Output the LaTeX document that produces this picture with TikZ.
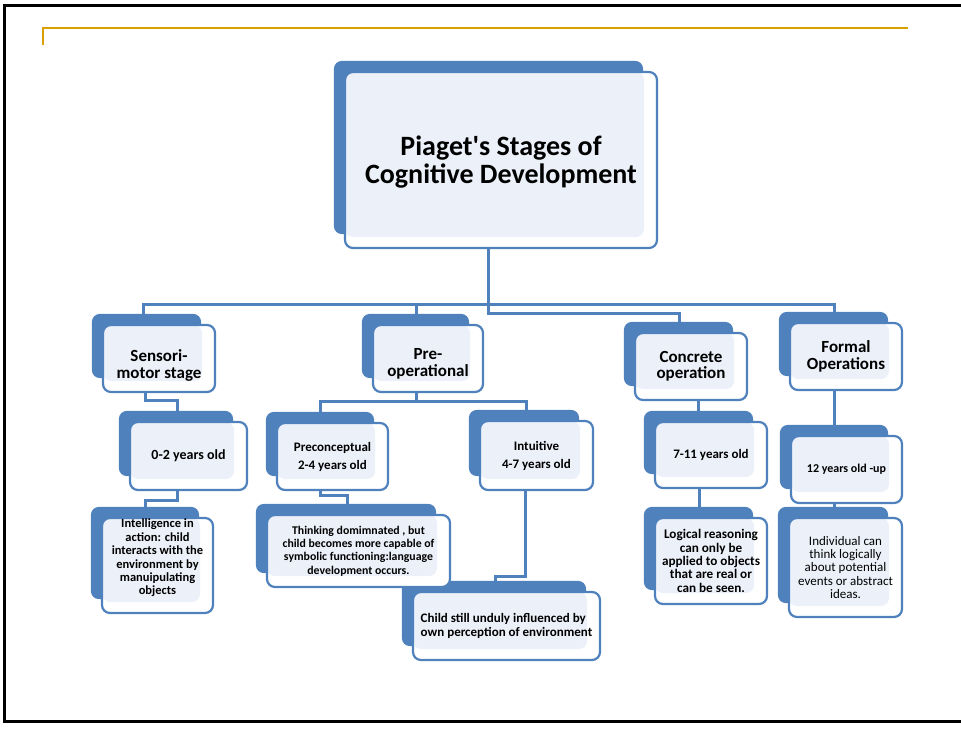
\documentclass[tikz,border=0pt]{standalone}
\usepackage{fontspec}
\setmainfont{Carlito}
\usetikzlibrary{calc}
\definecolor{boxblue}{RGB}{79,129,189}
\definecolor{boxlight}{RGB}{236,241,249}
\definecolor{gold}{RGB}{218,160,0}
\pgfdeclarelayer{connlayer}
\pgfdeclarelayer{backlayer}
\pgfsetlayers{connlayer,backlayer,main}
\tikzset{
  stagebox/.style={draw=boxblue, line width=2.2pt, rounded corners=8pt, fill=white,
    align=center, inner sep=0pt, text=black,
    path picture={\fill[boxlight] (path picture bounding box.north west) rectangle ([xshift=-13pt,yshift=11pt]path picture bounding box.south east);}},
  titlefont/.style={font=\bfseries\fontsize{28}{28.5}\selectfont},
  lvlone/.style={font=\bfseries\fontsize{17}{16.5}\selectfont},
  lvltwo/.style={font=\bfseries\fontsize{13}{18}\selectfont},
  lvlthree/.style={font=\bfseries\fontsize{12.5}{13.4}\selectfont},
  conn/.style={draw=boxblue, line width=3pt},
  backshape/.style={fill=boxblue, rounded corners=8pt},
  framerule/.style={line width=3pt, black},
  goldrule/.style={line width=2.2pt, gold}
}
\begin{document}
\begin{tikzpicture}[x=1pt,y=-1pt]
\useasboundingbox (0,0) rectangle (961,731);
% frame
\coordinate (ftl) at (4,5);
\coordinate (ftr) at (961,5);
\coordinate (fbl) at (4,721);
\coordinate (fbr) at (961,721);
\draw[framerule] (ftr) -- (ftl) -- (fbl) -- (fbr);
\coordinate (gl) at (43,28);
\coordinate (gr) at (908,28);
\draw[goldrule] (gr) -- (gl) -- ++(0,17);

% nodes
\node[stagebox, titlefont, minimum width=312pt, minimum height=176pt, text height=52pt] (title) at (501,160) {Piaget\textquotesingle s Stages of\\Cognitive Development};

\node[stagebox, lvlone, minimum width=112pt, minimum height=67pt, text height=42pt] (sensori) at (159,358.5) {Sensori-\\motor stage};
\node[stagebox, lvltwo, font=\bfseries\fontsize{14}{18}\selectfont, minimum width=117pt, minimum height=68pt] (zero) at (188.5,456) {0-2 years old};
\node[stagebox, lvlthree, minimum width=111pt, minimum height=95pt, text depth=17pt] (intel) at (157.5,565.5) {Intelligence in\\action: child\\interacts with the\\environment by\\manuipulating\\objects};

\node[stagebox, lvlone, minimum width=110pt, minimum height=67pt, text height=38.5pt] (preop) at (428,358.5) {Pre-\\operational};
\node[stagebox, lvltwo, minimum width=111pt, minimum height=67pt] (precon) at (332.5,456.5) {Preconceptual\\2-4 years old};
\node[stagebox, lvltwo, minimum width=113pt, minimum height=69pt] (intuit) at (536.5,455.5) {Intuitive\\4-7 years old};
\node[stagebox, lvlthree, font=\bfseries\fontsize{11.8}{13.4}\selectfont, minimum width=183pt, minimum height=72pt] (think) at (358.5,551) {Thinking domimnated , but\\child becomes more capable of\\symbolic functioning:language\\development occurs.};
\node[stagebox, lvlthree, font=\bfseries\fontsize{13}{14}\selectfont, align=left, minimum width=187pt, minimum height=68pt] (child) at (506.5,626) {Child still unduly influenced by\\own perception of environment};

\node[stagebox, lvlone, minimum width=112pt, minimum height=67pt] (concrete) at (691,366.5) {Concrete\\operation};
\node[stagebox, lvltwo, minimum width=112pt, minimum height=66pt] (seven) at (711,455) {7-11 years old};
\node[stagebox, lvlthree, font=\bfseries\fontsize{13.2}{13.4}\selectfont, minimum width=112pt, minimum height=86pt] (logic) at (711,561) {Logical reasoning\\can only be\\applied to objects\\that are real or\\can be seen.};

\node[stagebox, lvlone, minimum width=112pt, minimum height=67pt] (formal) at (846,356.5) {Formal\\Operations};
\node[stagebox, lvltwo, font=\bfseries\fontsize{12}{18}\selectfont, minimum width=111pt, minimum height=67pt] (twelve) at (846.5,469.5) {12 years old -up};
\node[stagebox, font=\fontsize{13}{13.4}\selectfont, minimum width=113pt, minimum height=99pt] (indiv) at (845.5,567.5) {Individual can\\think logically\\about potential\\events or abstract\\ideas.};

% back shapes
\begin{pgfonlayer}{backlayer}
\foreach \n in {title,sensori,zero,intel,preop,precon,intuit,think,child,concrete,seven,logic,formal,twelve,indiv}{
  \fill[backshape] ([shift={(-10pt,10pt)}]\n.north west) rectangle ([shift={(-15pt,15pt)}]\n.south east);
}
\end{pgfonlayer}

% connectors
\begin{pgfonlayer}{connlayer}
\draw[conn] ([xshift=-13pt]title.south) -- ++(0,55) -| ([xshift=-16pt]sensori.north);
\draw[conn] ([xshift=-13pt]title.south) -- ++(0,55) -| ([xshift=-12pt]preop.north);
\draw[conn] ([xshift=-13pt]title.south) -- ++(0,55) -| ([xshift=-12pt]formal.north);
\draw[conn] ([xshift=-13pt]title.south) -- ++(0,64) -| ([xshift=-12pt]concrete.north);

\draw[conn] ([xshift=-14pt]sensori.south) -- ++(0,7) -| ([xshift=-11.5pt]zero.north);
\draw[conn] ([xshift=-11.5pt]zero.south) -- ++(0,9) -| ([xshift=-12.5pt]intel.north);

\draw[conn] ([xshift=-12pt]preop.south) -- ++(0,8) -| ([xshift=-12.5pt]precon.north);
\draw[conn] ([xshift=-12pt]preop.south) -- ++(0,8) -| ([xshift=-10.5pt]intuit.north);
\draw[conn] ([xshift=-12.5pt]precon.south) -- ++(0,4) -| ([xshift=-11.5pt]think.north);
\draw[conn] ([xshift=-11.5pt]intuit.south) -- ++(0,85) -| ([xshift=-11.5pt]child.north);

\draw[conn] ([xshift=7pt]concrete.south) -- ([xshift=-13pt]seven.north);
\draw[conn] ([xshift=-12pt]seven.south) -- ([xshift=-12pt]logic.north);

\draw[conn] ([xshift=-12pt]formal.south) -- ([xshift=-12.5pt]twelve.north);
\draw[conn] ([xshift=-12.5pt]twelve.south) -- ([xshift=-11.5pt]indiv.north);
\end{pgfonlayer}
\end{tikzpicture}
\end{document}
